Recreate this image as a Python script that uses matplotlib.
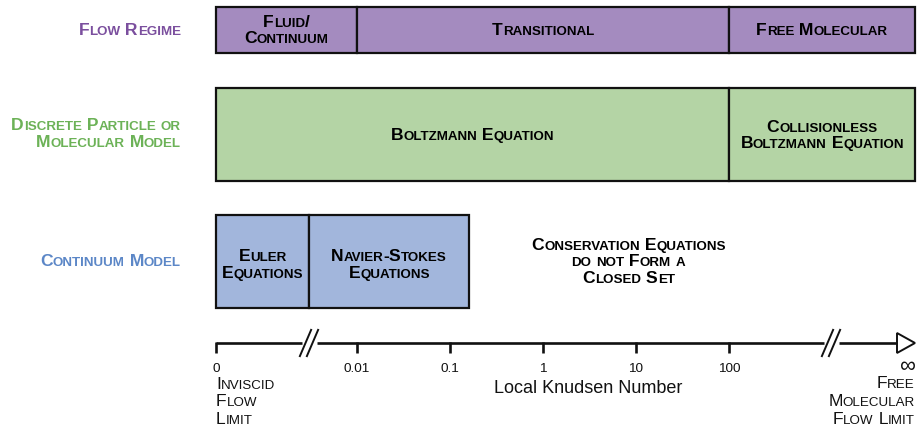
import math
import matplotlib
matplotlib.use("Agg")
import matplotlib.pyplot as plt
from matplotlib.font_manager import FontProperties
from matplotlib.transforms import offset_copy
from matplotlib.patches import Rectangle, Polygon

# ---------------- data ----------------
row_labels = ["Flow Regime", "Discrete Particle or\nMolecular Model", "Continuum Model"]
row_label_colors = ["#7b4f9e", "#6cb257", "#5c87c7"]
row_fill_colors = ["#a48bbf", "#b4d4a5", "#a2b6dc"]

flow_regimes = ["Fluid/\nContinuum", "Transitional", "Free Molecular"]
flow_bounds = [0, 0.01, 100, math.inf]

discrete_models = ["Boltzmann Equation", "Collisionless\nBoltzmann Equation"]
discrete_bounds = [0, 100, math.inf]

continuum_models = ["Euler\nEquations", "Navier-Stokes\nEquations"]
continuum_bounds = [0, "break", 0.16]
continuum_note = "Conservation Equations\ndo not Form a\nClosed Set"
continuum_note_kn = 10 ** 0.92

tick_values = [0.01, 0.1, 1, 10, 100]
tick_labels = ["0.01", "0.1", "1", "10", "100"]
axis_title = "Local Knudsen Number"
zero_label = "0"
inf_label = "\u221e"
zero_note = "Inviscid\nFlow\nLimit"
inf_note = "Free\nMolecular\nFlow Limit"

# ---------------- layout ----------------
W, H = 917, 429
PX_PER_DEC = 93.0
X_ONE = 543.0  # pixel of Kn = 1
U_ZERO = (216 - X_ONE) / PX_PER_DEC
U_INF = (915 - X_ONE) / PX_PER_DEC
U_BREAK1 = (309 - X_ONE) / PX_PER_DEC
U_BREAK2 = (831 - X_ONE) / PX_PER_DEC
PX = 1.0 / PX_PER_DEC  # one pixel in u-units


def pos(k):
    if k == "break":
        return U_BREAK1
    if k == 0:
        return U_ZERO
    if k == math.inf:
        return U_INF
    return math.log10(k)


fig = plt.figure(figsize=(W / 100, H / 100), dpi=100)
ax = fig.add_axes([0, 0, 1, 1])
ax.set_xlim(-X_ONE / PX_PER_DEC, (W - X_ONE) / PX_PER_DEC)
ax.set_ylim(H, 0)
ax.axis("off")
renderer = fig.canvas.get_renderer()

FAM = "Liberation Sans"
BIG, SMALL = 12.6, 9.6


def text_w(s, size, weight):
    fp = FontProperties(family=FAM, size=size, weight=weight)
    a = renderer.get_text_width_height_descent("|" + s + "|", fp, ismath=False)[0]
    b = renderer.get_text_width_height_descent("||", fp, ismath=False)[0]
    return a - b


def runs_of(line):
    runs = []
    for ch in line:
        big = not ch.islower()
        c = ch.upper()
        if runs and runs[-1][1] == big:
            runs[-1][0] += c
        else:
            runs.append([c, big])
    return runs


def smallcaps(x, yc, text, ha="center", color="black", weight="bold",
              big=BIG, small=SMALL, spacing=16.5, first_baseline=None):
    lines = text.split("\n")
    n = len(lines)
    for i, line in enumerate(lines):
        if first_baseline is None:
            yb = yc + (i - (n - 1) / 2) * spacing + 5
        else:
            yb = first_baseline + i * spacing
        runs = runs_of(line)
        widths = [text_w(s, big if b else small, weight) for s, b in runs]
        tot = sum(widths)
        dx = {"left": 0, "center": -tot / 2, "right": -tot}[ha]
        for (s, b), w in zip(runs, widths):
            tr = offset_copy(ax.transData, fig=fig, x=dx, y=0, units="dots")
            ax.text(x, yb, s, transform=tr, ha="left", va="baseline",
                    fontsize=big if b else small, fontweight=weight,
                    family=FAM, color=color)
            dx += w


# rows: (top, bottom, text center)
rows = [(7, 53, 30), (88, 181, 135), (215, 308, 264.5)]
label_centers = [30, 133.5, 261]
row_items = [(flow_regimes, flow_bounds), (discrete_models, discrete_bounds),
             (continuum_models, continuum_bounds)]

LABEL_X = (181 - X_ONE) / PX_PER_DEC
for r, (lab, col) in enumerate(zip(row_labels, row_label_colors)):
    smallcaps(LABEL_X, label_centers[r], lab, ha="right", color=col)

for r, (names, bounds) in enumerate(row_items):
    top, bot, yc = rows[r]
    for i, name in enumerate(names):
        x0, x1 = pos(bounds[i]), pos(bounds[i + 1])
        ax.add_patch(Rectangle((x0, top), x1 - x0, bot - top,
                               facecolor=row_fill_colors[r], edgecolor="#111111",
                               linewidth=1.6, zorder=2))
        smallcaps((x0 + x1) / 2, yc, name)

smallcaps(math.log10(continuum_note_kn), 261.3, continuum_note)

# ---------------- axis ----------------
AY = 343
LW = 1.9
gap = 7.5 * PX
arrow_base = U_INF - 18 * PX
segs = [(U_ZERO, U_BREAK1 - gap), (U_BREAK1 + gap, U_BREAK2 - gap),
        (U_BREAK2 + gap, arrow_base)]
for a, b in segs:
    ax.plot([a, b], [AY, AY], color="#111111", lw=LW, solid_capstyle="butt")
for ub in (U_BREAK1, U_BREAK2):
    for off in (-3.5, 3.5):
        c = ub + off * PX
        ax.plot([c - 6 * PX, c + 6 * PX], [AY + 14, AY - 14], color="#111111",
                lw=1.4, solid_capstyle="butt")
ax.add_patch(Polygon([(arrow_base, AY - 10), (U_INF, AY), (arrow_base, AY + 10)],
                     closed=True, facecolor="white", edgecolor="#111111", lw=1.4))

tick_us = [U_ZERO] + [math.log10(v) for v in tick_values]
for u in tick_us:
    ax.plot([u, u], [AY - 1, AY + 10], color="#111111", lw=LW, solid_capstyle="butt")

for v, lab in zip(tick_values, tick_labels):
    ax.text(math.log10(v), 372.5, lab, ha="center", va="baseline",
            fontsize=9.7, family=FAM, color="#111111")
ax.text(U_ZERO, 372.5, zero_label, ha="center", va="baseline",
        fontsize=9.7, family=FAM, color="#111111")
ax.text(U_INF - 8 * PX, 372, inf_label, ha="center", va="baseline",
        fontsize=16, family=FAM, color="#111111")
ax.text((588 - X_ONE) / PX_PER_DEC, 393, axis_title, ha="center", va="baseline",
        fontsize=13, family=FAM, color="#111111")

smallcaps(U_ZERO, 0, zero_note, ha="left", weight="normal", color="#111111",
          spacing=17.5, first_baseline=389)
smallcaps(U_INF, 0, inf_note, ha="right", weight="normal", color="#111111",
          spacing=18, first_baseline=388)

fig.savefig("out.png", dpi=100)
